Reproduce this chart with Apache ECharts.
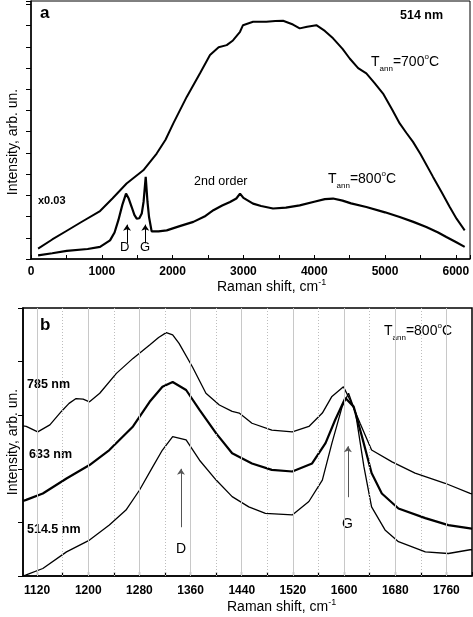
<!DOCTYPE html>
<html><head><meta charset="utf-8">
<script src="https://cdn.jsdelivr.net/npm/echarts@6/dist/echarts.min.js"></script>
<style>html,body{margin:0;padding:0;background:#fff}#c{width:473px;height:617px}</style>
</head><body><div id="c"></div>
<script>
// ---------- Panel a data (Raman shift cm-1, intensity arb. un.) ----------
const a700X = [100, 300, 500, 700, 975, 1150, 1350, 1586, 1775, 1900, 2010, 2199, 2387, 2528, 2650, 2764, 2852, 2952, 2994, 3136, 3323, 3450, 3560, 3700, 3795, 3900, 4030, 4150, 4266, 4400, 4501, 4620, 4736, 4850, 4972, 5100, 5207, 5300, 5395, 5500, 5678, 5800, 5914, 6010, 6125];
const a700Y = [0.49, 0.92, 1.32, 1.72, 2.26, 2.85, 3.56, 4.18, 4.97, 5.62, 6.39, 7.64, 8.75, 9.61, 9.98, 10.08, 10.3, 10.71, 11.02, 11.18, 11.18, 11.22, 11.23, 11.05, 10.87, 10.95, 11.02, 10.75, 10.4, 9.9, 9.45, 9.0, 8.75, 8.3, 7.8, 7.05, 6.39, 5.95, 5.52, 4.95, 3.87, 3.15, 2.45, 1.9, 1.35];

const a800X = [100, 300, 504, 800, 975, 1116, 1180, 1234, 1290, 1342, 1380, 1422, 1460, 1493, 1530, 1564, 1590, 1620, 1645, 1667, 1704, 1728, 1800, 1917, 2100, 2293, 2450, 2576, 2700, 2811, 2900, 2952, 3000, 3136, 3250, 3418, 3600, 3795, 4000, 4150, 4266, 4400, 4520, 4736, 5000, 5207, 5400, 5583, 5750, 5866, 6000, 6125];
const a800Y = [0.17, 0.27, 0.38, 0.47, 0.57, 0.88, 1.25, 1.83, 2.55, 3.08, 2.85, 2.45, 2.08, 1.9, 1.92, 2.14, 2.7, 3.87, 2.7, 1.98, 1.3, 1.27, 1.3, 1.35, 1.55, 1.75, 2.0, 2.3, 2.52, 2.69, 2.85, 3.08, 2.88, 2.61, 2.5, 2.38, 2.42, 2.53, 2.7, 2.82, 2.85, 2.75, 2.62, 2.45, 2.2, 1.98, 1.75, 1.51, 1.25, 1.04, 0.8, 0.57];

// ---------- Panel b data ----------
const b785X = [1098, 1103, 1121, 1140, 1158, 1170, 1181, 1192, 1202, 1218, 1244, 1270, 1296, 1310, 1322, 1332, 1342, 1363, 1384, 1405, 1425, 1436, 1456, 1487, 1519, 1545, 1566, 1581, 1599, 1612, 1625, 1643, 1675, 1711, 1758, 1797, 1800];
const b785Y = [2.8, 2.79, 2.69, 2.82, 3.07, 3.22, 3.31, 3.3, 3.25, 3.41, 3.78, 4.06, 4.31, 4.45, 4.54, 4.5, 4.34, 3.9, 3.41, 3.19, 3.07, 3.04, 2.85, 2.72, 2.69, 2.79, 3.04, 3.35, 3.53, 3.22, 2.85, 2.35, 2.13, 1.92, 1.73, 1.54, 1.53];

const b633X = [1098, 1103, 1129, 1166, 1202, 1233, 1270, 1296, 1316, 1332, 1353, 1374, 1400, 1425, 1456, 1487, 1519, 1550, 1571, 1586, 1602, 1615, 1628, 1643, 1659, 1685, 1727, 1763, 1797, 1800];
const b633Y = [1.4, 1.42, 1.54, 1.82, 2.07, 2.35, 2.79, 3.25, 3.53, 3.62, 3.47, 3.1, 2.66, 2.29, 2.1, 1.98, 1.95, 2.1, 2.48, 2.91, 3.32, 3.16, 2.6, 1.92, 1.54, 1.26, 1.08, 0.95, 0.89, 0.88];

const b514X = [1098, 1103, 1129, 1166, 1202, 1233, 1259, 1280, 1301, 1316, 1332, 1353, 1374, 1400, 1425, 1451, 1477, 1519, 1545, 1566, 1581, 1597, 1607, 1618, 1631, 1643, 1664, 1685, 1727, 1763, 1797, 1800];
const b514Y = [0.0, 0.02, 0.14, 0.45, 0.67, 0.95, 1.23, 1.6, 2.04, 2.35, 2.6, 2.54, 2.16, 1.79, 1.48, 1.29, 1.17, 1.14, 1.39, 1.79, 2.48, 3.16, 3.41, 3.04, 2.04, 1.29, 0.86, 0.64, 0.45, 0.42, 0.49, 0.49];

// ---------- axis tick values ----------
const aXLabels = [0, 1000, 2000, 3000, 4000, 5000, 6000];
const bXLabels = [1120, 1200, 1280, 1360, 1440, 1520, 1600, 1680, 1760];
const bXTicks = [1120, 1160, 1200, 1240, 1280, 1320, 1360, 1400, 1440, 1480, 1520, 1560, 1600, 1640, 1680, 1720, 1760, 1800];
const bGridMajor = [1120, 1200, 1280, 1360, 1440, 1520, 1600, 1680, 1760];
const bGridMinor = [1160, 1240, 1320, 1400, 1480, 1560, 1640, 1720];

const pairs = (xs, ys) => xs.map((x, i) => [x, ys[i]]);
const FONT = '"Liberation Sans", Arial, sans-serif';

const chart = echarts.init(document.getElementById('c'), null, {renderer: 'canvas'});

function tText(x, y, temp) {
  return {
    type: 'text', left: x, top: y,
    style: {
      text: '{t|T}{s|ann}{t|=' + temp + '}{p|o}{t|C}',
      rich: {
        t: {fontFamily: FONT, fontSize: 14, fill: '#000', lineHeight: 16, verticalAlign: 'bottom'},
        s: {fontFamily: FONT, fontSize: 8, fill: '#000', lineHeight: 8, verticalAlign: 'bottom', padding: [0, 0, -4, 0]},
        p: {fontFamily: FONT, fontSize: 8, fill: '#000', lineHeight: 8, verticalAlign: 'top'}
      }
    }
  };
}
function plain(x, y, txt, size, bold) {
  return {type: 'text', left: x, top: y, style: {text: txt, fontFamily: FONT, fontSize: size, fontWeight: bold ? 'bold' : 'normal', fill: '#000'}};
}
function ramanTitle(x, y) {
  return {type: 'text', left: x, top: y, style: {
    text: '{t|Raman shift, cm}{p|-1}',
    rich: {
      t: {fontFamily: FONT, fontSize: 14, fill: '#000', lineHeight: 16, verticalAlign: 'bottom'},
      p: {fontFamily: FONT, fontSize: 9, fill: '#000', lineHeight: 9, verticalAlign: 'top'}
    }}};
}
function yTitle(cx, cy) {
  return {type: 'text', x: cx, y: cy, rotation: Math.PI / 2,
    style: {text: 'Intensity, arb. un.', fontFamily: FONT, fontSize: 14, fill: '#000', align: 'center', verticalAlign: 'middle'}};
}

const arrowLine = (x, y1, y2, color) => [{coord: [x, y1], lineStyle: {color: color}}, {coord: [x, y2]}];

const option = {
  animation: false,
  backgroundColor: '#fff',
  grid: [
    {left: 31, top: 1, width: 440, height: 258, show: true, borderColor: '#000', borderWidth: 1, backgroundColor: 'transparent'},
    {left: 23, top: 308, width: 449, height: 268, show: true, borderColor: '#000', borderWidth: 1.5, backgroundColor: 'transparent'}
  ],
  xAxis: [
    {type: 'value', gridIndex: 0, min: 0, max: 6200, interval: 500,
      axisLine: {lineStyle: {color: '#000', width: 1.5}},
      axisTick: {inside: true, length: 4, lineStyle: {color: '#000', width: 1}},
      axisLabel: {margin: 7, color: '#000', fontFamily: FONT, fontSize: 12, fontWeight: 'bold',
        formatter: v => (aXLabels.indexOf(v) >= 0 ? String(v) : '')},
      splitLine: {show: false}},
    {type: 'value', gridIndex: 1, min: 1098, max: 1800,
      axisLine: {lineStyle: {color: '#000', width: 1.5}},
      axisTick: {inside: true, length: 4, customValues: bXTicks, lineStyle: {color: '#000', width: 1.2}},
      axisLabel: {margin: 9, color: '#000', fontFamily: FONT, fontSize: 12, fontWeight: 'bold', customValues: bXLabels,
        formatter: v => String(v)},
      splitLine: {show: false}}
  ],
  yAxis: [
    {type: 'value', gridIndex: 0, min: 0, max: 12.16, interval: 1,
      axisLine: {lineStyle: {color: '#000', width: 1.5}},
      axisTick: {inside: false, length: 5, lineStyle: {color: '#000', width: 1}},
      axisLabel: {show: false}, splitLine: {show: false}},
    {type: 'value', gridIndex: 1, min: 0, max: 5, interval: 1,
      axisLine: {lineStyle: {color: '#000', width: 1.5}},
      axisTick: {inside: false, length: 5, lineStyle: {color: '#000', width: 1}},
      axisLabel: {show: false}, splitLine: {show: false}}
  ],
  series: [
    {type: 'line', xAxisIndex: 1, yAxisIndex: 1, data: [], z: 0, silent: true,
      markLine: {silent: true, symbol: ['none', 'none'], label: {show: false}, animation: false,
        data: bGridMajor.map(v => ({xAxis: v, lineStyle: {color: '#c8c8c8', width: 1, type: 'solid'}}))
          .concat(bGridMinor.map(v => ({xAxis: v, lineStyle: {color: '#bdbdbd', width: 1, type: [1, 2]}})))}},
    {name: '700', type: 'line', xAxisIndex: 0, yAxisIndex: 0, data: pairs(a700X, a700Y), showSymbol: false, z: 3,
      lineStyle: {color: '#000', width: 2}},
    {name: '800a', type: 'line', xAxisIndex: 0, yAxisIndex: 0, data: pairs(a800X, a800Y), showSymbol: false, z: 3,
      lineStyle: {color: '#000', width: 2.2},
      markLine: {silent: true, symbol: ['none', 'arrow'], symbolSize: 6, label: {show: false},
        lineStyle: {color: '#000', width: 1, type: 'solid'},
        data: [arrowLine(1356, 0.74, 1.62, '#000'), arrowLine(1614, 0.74, 1.62, '#000')]}},
    {name: '785', type: 'line', xAxisIndex: 1, yAxisIndex: 1, data: pairs(b785X, b785Y), showSymbol: false, z: 3,
      lineStyle: {color: '#000', width: 1.3}},
    {name: '633', type: 'line', xAxisIndex: 1, yAxisIndex: 1, data: pairs(b633X, b633Y), showSymbol: false, z: 3,
      lineStyle: {color: '#000', width: 2.2}},
    {name: '514.5', type: 'line', xAxisIndex: 1, yAxisIndex: 1, data: pairs(b514X, b514Y), showSymbol: false, z: 3,
      lineStyle: {color: '#000', width: 1.3},
      markLine: {silent: true, symbol: ['none', 'arrow'], symbolSize: 6, label: {show: false},
        lineStyle: {color: '#555', width: 1, type: 'solid'},
        data: [arrowLine(1345, 0.91, 2.0, '#555'), arrowLine(1606, 1.47, 2.42, '#555')]}}
  ],
  graphic: [
    plain(40, 5, 'a', 17, true),
    plain(400, 9, '514 nm', 12.5, true),
    tText(371, 53, '700'),
    tText(328, 170, '800'),
    plain(194, 175, '2nd order', 12.5, false),
    plain(38, 195, 'x0.03', 11, true),
    plain(120, 241, 'D', 13, false),
    plain(140, 241, 'G', 13, false),
    ramanTitle(217, 278),
    yTitle(13, 142),
    plain(40, 317, 'b', 17, true),
    tText(384, 322, '800'),
    plain(27, 378, '785 nm', 12.5, true),
    plain(29, 448, '633 nm', 12.5, true),
    plain(27, 523, '514.5 nm', 12.5, true),
    plain(176, 542, 'D', 14, false),
    plain(342, 517, 'G', 14, false),
    ramanTitle(227, 598),
    yTitle(13, 442)
  ]
};
chart.setOption(option);
</script>
</body></html>
